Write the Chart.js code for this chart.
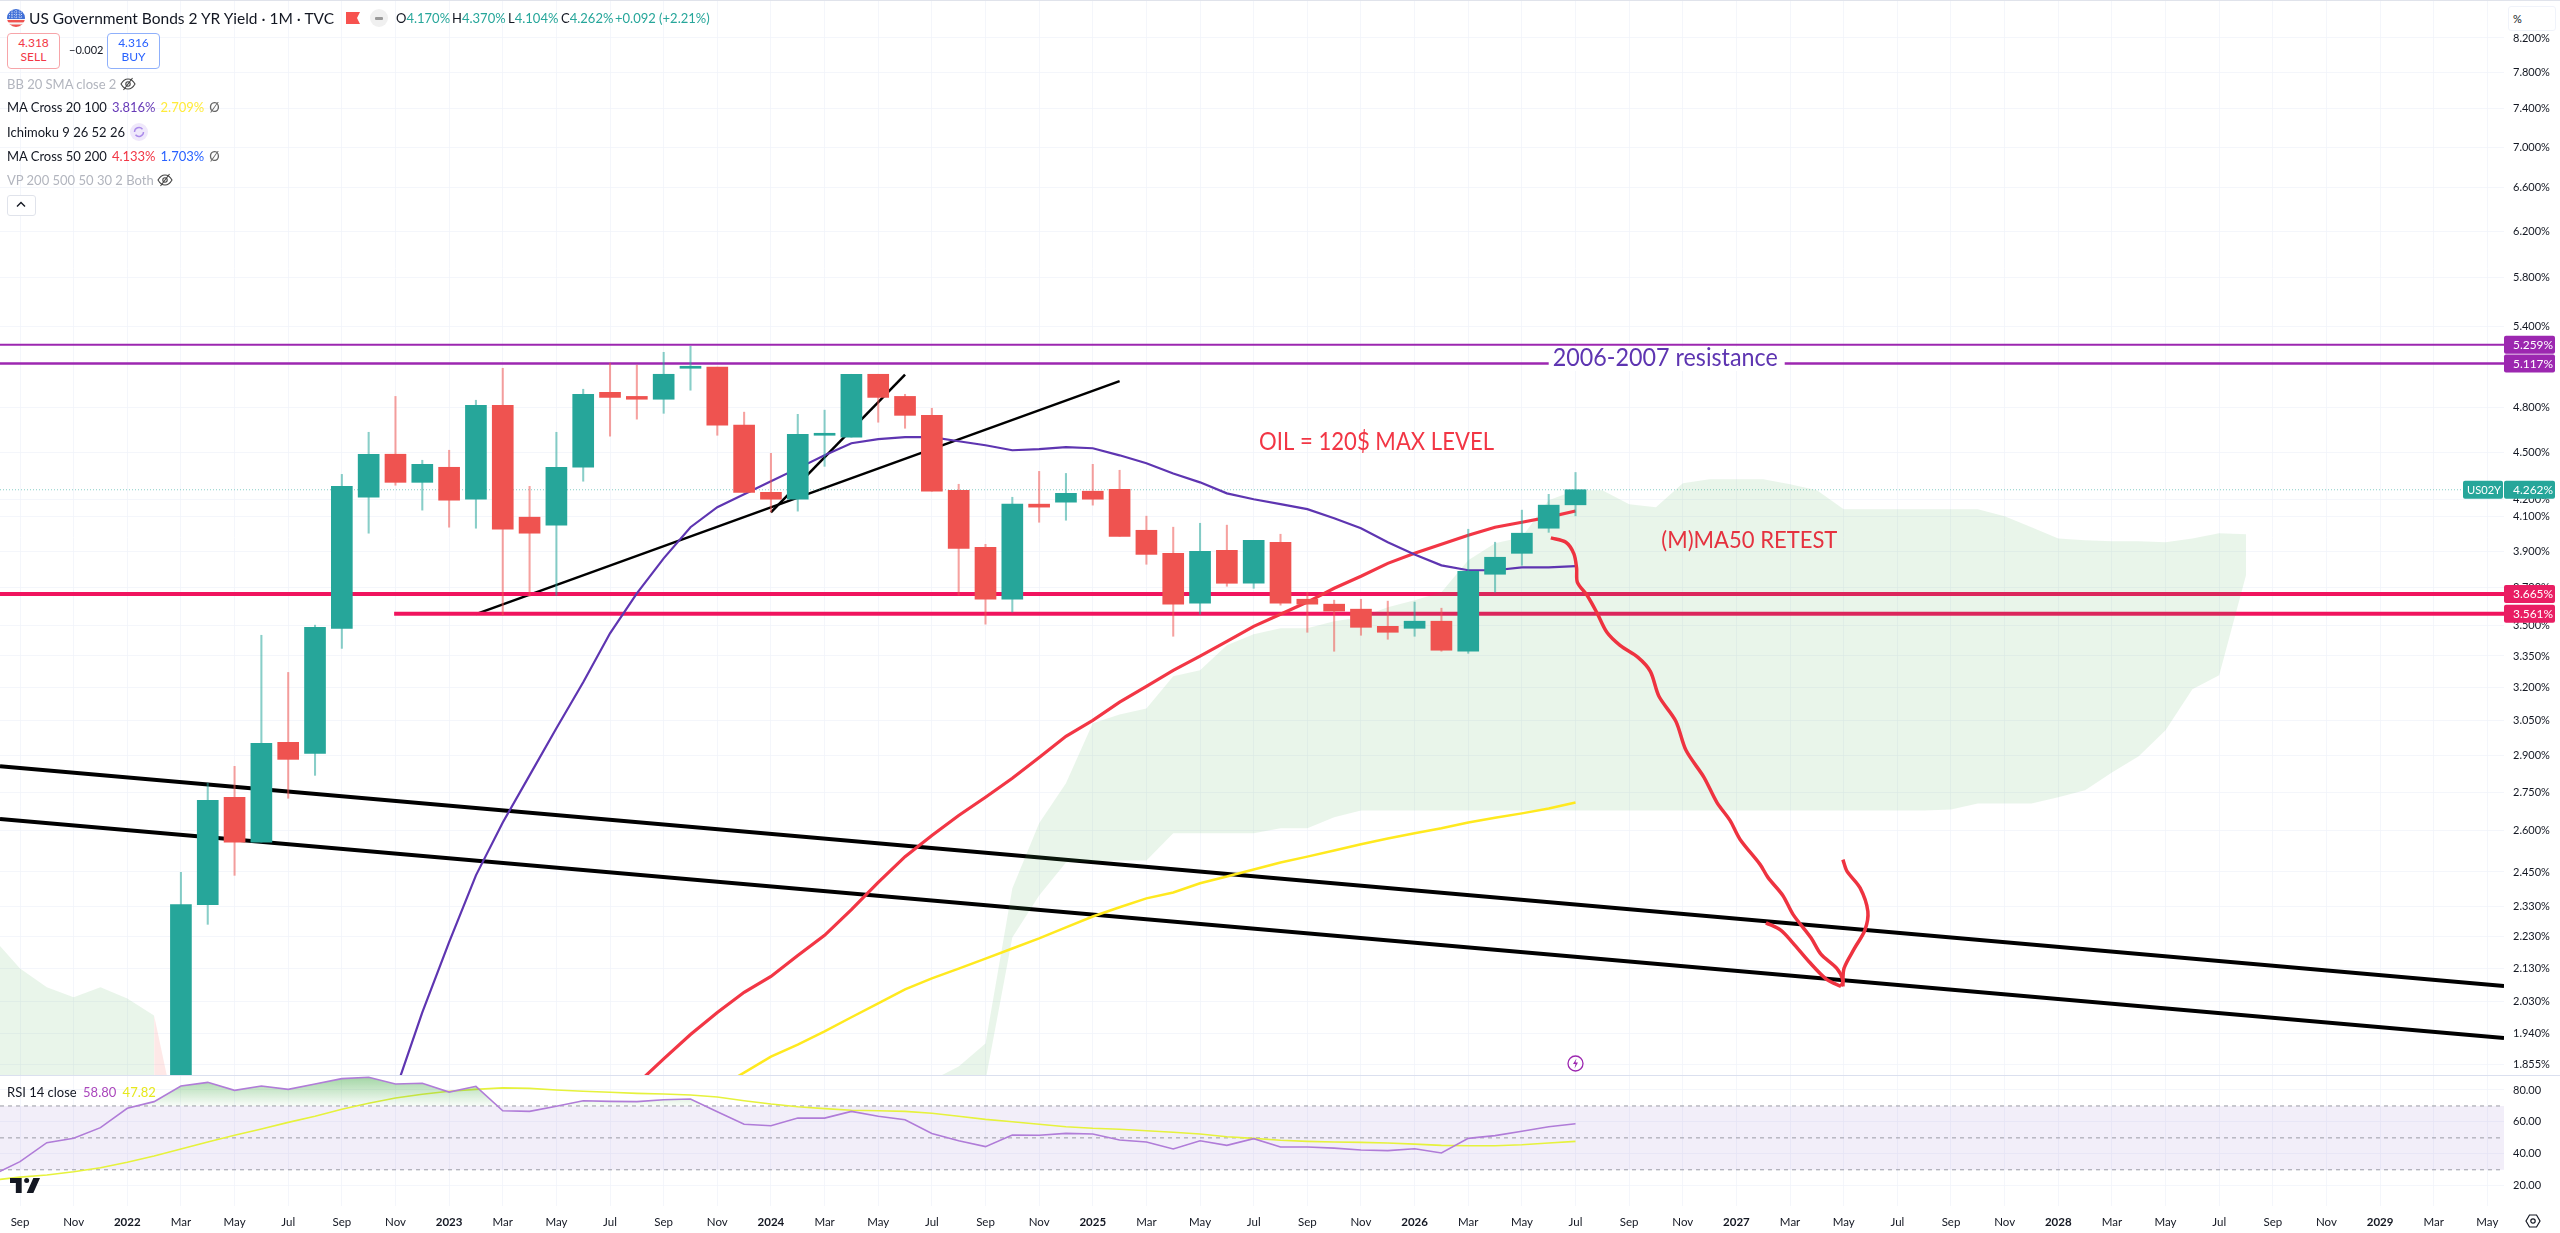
<!DOCTYPE html>
<html>
<head>
<meta charset="utf-8">
<title>US Government Bonds 2 YR Yield</title>
<script src="https://cdn.jsdelivr.net/npm/chart.js@4"></script>
<style>
  html, body { margin: 0; padding: 0; background: #fff; overflow: hidden; }
  body { width: 2560px; height: 1233px; position: relative; font-family: Lato, "Noto Sans", sans-serif; color: #131722; }
  canvas { position: absolute; left: 0; }
  #priceChart { top: 0; }
  #rsiChart { top: 1075px; }
  .abs { position: absolute; white-space: nowrap; }
  .row { position: absolute; left: 7px; font-size: 13px; line-height: 16px; white-space: nowrap; }
  .row span { margin-left: 5px; }
  .row span:first-child { margin-left: 0; }
  .off { color: #b2b5be; }
  .box { position: absolute; top: 33px; width: 51px; height: 32px; border-radius: 4px; background: #fff; text-align: center; font-size: 12px; line-height: 14px; padding-top: 2px; box-sizing: content-box; }
  .ohlc { position: absolute; top: 10px; font-size: 13px; line-height: 16px; color: #26a69a; white-space: nowrap; }
  .ohlc b { font-weight: normal; color: #131722; }
</style>
</head>
<body>
<canvas id="priceChart" width="2560" height="1075"></canvas>
<canvas id="rsiChart" width="2560" height="158"></canvas>

<div class="abs" style="left:0;top:0;width:2560px;height:1px;background:#e0e3eb"></div>
<div class="abs" style="left:0;top:1075px;width:2560px;height:1px;background:#dbe0ef"></div>

<svg class="abs" style="left:7px;top:9px" width="18" height="18" viewBox="0 0 18 18">
  <clipPath id="flagClip"><circle cx="9" cy="9" r="9"/></clipPath>
  <g clip-path="url(#flagClip)">
    <rect width="18" height="18" fill="#f5f5f5"/>
    <rect y="11" width="18" height="2.4" fill="#f0524f"/><rect y="15.5" width="18" height="2.5" fill="#f0524f"/>
    <rect width="18" height="10" fill="#3f6fd8"/>
    <path d="M2 3h14M2 5.5h14M2 8h14M5 1v9M9 1v9M13 1v9" stroke="#fff" stroke-width=".8" stroke-dasharray="1 1.4"/>
  </g>
</svg>
<div class="abs" style="left:29px;top:9px;font-size:15.5px;line-height:18px">US Government Bonds 2 YR Yield · 1M · TVC</div>
<svg class="abs" style="left:346px;top:12px" width="14" height="12" viewBox="0 0 14 12"><path d="M0 0h14l-3 6 3 6H0z" fill="#f7524f"/></svg>
<div class="abs" style="left:370px;top:9px;width:18px;height:18px;border-radius:9px;background:#f0f0f0"></div>
<div class="abs" style="left:375px;top:17px;width:8px;height:2.5px;border-radius:1px;background:#9a9a9a"></div>
<div class="ohlc" style="left:396px"><b>O</b>4.170%</div>
<div class="ohlc" style="left:452px"><b>H</b>4.370%</div>
<div class="ohlc" style="left:508px"><b>L</b>4.104%</div>
<div class="ohlc" style="left:561px"><b>C</b>4.262%</div>
<div class="ohlc" style="left:615px">+0.092 (+2.21%)</div>

<div class="box" style="left:7px;border:1px solid #f7a5a9;color:#f23645">4.318<br>SELL</div>
<div class="abs" style="left:69px;top:43px;font-size:11px;line-height:14px">−0.002</div>
<div class="box" style="left:107px;border:1px solid #8fb0fb;color:#2962ff">4.316<br>BUY</div>

<div class="row off" style="top:76px">BB 20 SMA close 2</div>
<svg class="abs" style="left:120px;top:77px" width="16" height="14" viewBox="0 0 16 14" fill="none" stroke="#444" stroke-width="1.1"><path d="M1 7c2-3.5 4.500-5 7-5s5 1.500 7 5c-2 3.500-4.500 5-7 5s-5-1.500-7-5z"/><circle cx="8" cy="7" r="2.2"/><path d="M12.500 1 3.500 13"/></svg>
<div class="row" style="top:99px"><span>MA Cross 20 100</span><span style="color:#673ab7">3.816%</span><span style="color:#ffeb3b">2.709%</span><span style="color:#666">Ø</span></div>
<div class="row" style="top:124px">Ichimoku 9 26 52 26</div>
<div class="abs" style="left:130px;top:123px;width:18px;height:18px;border-radius:9px;background:#efe8fb"></div>
<svg class="abs" style="left:133px;top:126px" width="12" height="12" viewBox="0 0 12 12" fill="none" stroke="#ab8bea" stroke-width="1.4"><path d="M1.500 6a4.500 4.500 0 0 1 8-2.800M10.500 6a4.500 4.500 0 0 1-8 2.800"/></svg>
<div class="row" style="top:148px"><span>MA Cross 50 200</span><span style="color:#f23645">4.133%</span><span style="color:#2962ff">1.703%</span><span style="color:#666">Ø</span></div>
<div class="row off" style="top:172px">VP 200 500 50 30 2 Both</div>
<svg class="abs" style="left:157px;top:173px" width="16" height="14" viewBox="0 0 16 14" fill="none" stroke="#444" stroke-width="1.1"><path d="M1 7c2-3.500 4.500-5 7-5s5 1.500 7 5c-2 3.500-4.500 5-7 5s-5-1.500-7-5z"/><circle cx="8" cy="7" r="2.200"/><path d="M12.500 1 3.500 13"/></svg>
<div class="abs" style="left:7px;top:195px;width:27px;height:19px;border:1px solid #e0e3eb;border-radius:3px;background:#fff"></div>
<svg class="abs" style="left:16px;top:201px" width="10" height="7" viewBox="0 0 10 7" fill="none" stroke="#131722" stroke-width="1.400"><path d="M1 5.500 5 1.500l4 4"/></svg>

<div class="abs" style="left:2508px;top:6px;width:46px;height:23px;border:1px solid #f0f3fa;border-radius:3px;background:#fff;font-size:11px;line-height:23px;text-indent:4px">%</div>

<svg class="abs" style="left:1567px;top:1055px" width="17" height="17" viewBox="0 0 17 17" fill="none"><circle cx="8.500" cy="8.500" r="7.500" stroke="#9c27b0" stroke-width="1.300"/><path d="M9.500 3.500 6 9h2.500L7.500 13.500 11 7.500H8.500z" fill="#9c27b0"/></svg>

<svg class="abs" style="left:10px;top:1178px" width="30" height="15" viewBox="0 0 36 18"><path d="M14 0H0v6h7v12h7zM28 0h8l-8 18h-8z" fill="#131722"/><circle cx="20" cy="3" r="3" fill="#131722"/></svg>
<div class="abs" style="left:7px;top:1084px;font-size:13px;line-height:16px"><span>RSI 14 close</span> <span style="color:#ab47bc;margin-left:3px">58.80</span> <span style="color:#e6e81e;margin-left:3px">47.82</span></div>
<svg class="abs" style="left:2525px;top:1214px" width="16" height="14" viewBox="0 0 16 14" fill="none" stroke="#131722" stroke-width="1.200"><path d="M1 7l3.500-6h7L15 7l-3.500 6h-7z"/><circle cx="8" cy="7" r="2.200"/></svg>

<script>
// month index: 0 = Sep 2021, one step per month
const xMin = -0.746;
const xMax = 92.62;

const xLabels = [
  'Sep','Nov',
  '2022','Mar','May','Jul','Sep','Nov',
  '2023','Mar','May','Jul','Sep','Nov',
  '2024','Mar','May','Jul','Sep','Nov',
  '2025','Mar','May','Jul','Sep','Nov',
  '2026','Mar','May','Jul','Sep','Nov',
  '2027','Mar','May','Jul','Sep','Nov',
  '2028','Mar','May','Jul','Sep','Nov',
  '2029','Mar','May'
];

const priceTicks = [8.2,7.8,7.4,7.0,6.6,6.2,5.8,5.4,4.8,4.5,4.2,4.1,3.9,3.7,3.5,3.35,3.2,3.05,2.9,2.75,2.6,2.45,2.33,2.23,2.13,2.03,1.94,1.855];
const rsiTicks = [80,60,40,20];

// candles start at Mar 2022 (month 6)
const candleStart = 6;
const opens = [1.43,2.337,2.730,2.558,2.956,2.909,3.487,4.216,4.487,4.308,4.403,4.204,4.817,4.096,4.049,4.403,4.908,4.879,4.859,5.082,5.090,4.680,4.246,4.204,4.612,4.599,5.038,4.879,4.747,4.259,3.921,3.637,4.174,4.186,4.253,4.265,4.019,3.887,3.616,3.904,3.722,3.950,3.637,3.611,3.585,3.497,3.487,3.523,3.373,3.771,3.887,4.031,4.170];
const highs = [2.449,2.786,2.855,3.452,3.271,3.503,4.358,4.632,4.879,4.448,4.513,4.852,5.082,4.283,4.632,4.930,5.120,5.105,5.201,5.247,5.090,4.769,4.493,4.754,4.783,5.038,5.038,4.894,4.796,4.296,3.938,4.216,4.377,4.364,4.422,4.384,4.102,4.037,4.060,4.049,3.961,3.996,3.674,3.632,3.637,3.627,3.622,3.590,4.025,3.950,4.138,4.234,4.370];
const lows = [1.43,2.271,2.438,2.558,2.726,2.818,3.387,4.002,4.290,4.138,4.037,4.031,3.554,3.653,3.658,4.315,4.606,4.721,4.761,4.923,4.612,4.246,4.126,4.132,4.409,4.599,4.700,4.659,4.253,3.658,3.508,3.570,4.066,4.078,4.168,3.984,3.826,3.447,3.559,3.706,3.695,3.606,3.467,3.373,3.452,3.432,3.447,3.373,3.363,3.674,3.820,4.007,4.104];
const closes = [2.337,2.718,2.558,2.952,2.884,3.492,4.283,4.487,4.308,4.422,4.198,4.817,4.025,4.002,4.403,4.894,4.872,4.859,5.038,5.090,4.680,4.246,4.204,4.619,4.619,5.038,4.872,4.747,4.253,3.915,3.637,4.174,4.156,4.240,4.204,3.984,3.881,3.611,3.898,3.722,3.961,3.616,3.611,3.575,3.492,3.467,3.523,3.378,3.787,3.865,4.002,4.168,4.262];

const ma20Start = 14;
const ma20Values = [1.785,1.999,2.213,2.438,2.632,2.818,3.017,3.225,3.462,3.668,3.859,4.037,4.156,4.234,4.315,4.396,4.480,4.559,4.586,4.599,4.599,4.572,4.546,4.513,4.520,4.533,4.526,4.480,4.429,4.364,4.308,4.240,4.204,4.174,4.144,4.090,4.031,3.950,3.881,3.820,3.793,3.793,3.809,3.809,3.816];
const ma50Start = 23;
const ma50Values = [1.802,1.869,1.936,1.999,2.058,2.106,2.171,2.235,2.320,2.413,2.505,2.583,2.659,2.730,2.806,2.892,2.982,3.052,3.133,3.206,3.281,3.349,3.422,3.497,3.559,3.622,3.695,3.760,3.831,3.887,3.938,3.990,4.037,4.066,4.096,4.133];
const ma100Start = 26;
const ma100Values = [1.791,1.832,1.875,1.908,1.945,1.985,2.025,2.067,2.100,2.130,2.161,2.193,2.225,2.261,2.297,2.328,2.358,2.378,2.410,2.434,2.459,2.484,2.505,2.527,2.550,2.572,2.591,2.610,2.632,2.650,2.667,2.686,2.709];

// Ichimoku cloud, month by month
const cloudOldStart = -1;
const cloudOldTop = [2.225,2.130,2.073,2.043,2.073,2.040,1.990];
const cloudOldBottom = [1.7,1.7,1.7,1.7,1.7,1.7,1.7];
const cloudPinkMonths = [5,5.68];
const cloudPinkTop = [1.990,1.757];
const cloudPinkBottom = [1.7,1.7];
const cloudStart = 34;
const cloudTop = [1.812,1.848,1.911,2.392,2.629,2.786,3.039,3.078,3.105,3.253,3.281,3.403,3.457,3.487,3.487,3.523,3.543,3.595,3.632,3.674,3.848,3.944,3.978,4.198,4.259,4.259,4.174,4.156,4.302,4.327,4.327,4.327,4.296,4.259,4.144,4.144,4.144,4.144,4.144,4.144,4.102,4.037,3.972,3.961,3.955,3.955,3.950,3.972,4.002,3.996];
const cloudBottom = [1.757,1.757,1.811,2.228,2.368,2.484,2.487,2.491,2.491,2.591,2.591,2.591,2.591,2.610,2.610,2.652,2.678,2.678,2.678,2.678,2.678,2.678,2.678,2.678,2.678,2.678,2.678,2.678,2.678,2.678,2.678,2.678,2.678,2.678,2.678,2.678,2.678,2.678,2.682,2.705,2.705,2.705,2.730,2.758,2.830,2.897,3.008,3.192,3.258,3.765];

const resistanceLevels = [5.259,5.117];
const supportLevel = 3.665;
const supportLevelLow = 3.561;
const supportLowStart = 13.95;
const lastClose = 4.262;

// drawn lines: [month, yield] pairs
const channelUpper = [[xMin,2.855],[xMax,2.077]];
const channelLower = [[xMin,2.645],[xMax,1.926]];
const trendLong = [[17,3.559],[41,4.988]];
const trendShort = [[28,4.124],[33,5.036]];

const arrowDown = [[57.08,3.975],[57.64,3.950],[57.94,3.884],[58.04,3.804],[58.07,3.727],[58.43,3.658],[58.80,3.566],[59.17,3.467],[59.66,3.402],[60.33,3.343],[60.79,3.276],[61.11,3.160],[61.74,3.048],[62.12,2.922],[62.79,2.810],[63.27,2.710],[63.76,2.640],[64.13,2.569],[64.88,2.477],[65.18,2.430],[65.73,2.368],[66.11,2.304],[66.78,2.227],[67.15,2.175],[67.75,2.130],[67.97,2.094],[67.90,2.076]];
const arrowLeft = [[67.90,2.076],[67.36,2.097],[66.70,2.152],[66.11,2.210],[65.65,2.252],[65.10,2.276]];
const arrowUp = [[67.97,2.076],[68.01,2.130],[68.40,2.193],[68.79,2.252],[68.90,2.314],[68.61,2.394],[68.12,2.453],[67.97,2.494]];

// RSI pane
const rsiStart = 0;
const rsiValues = [35.1,47,49.7,56.4,68.5,72.7,82.5,84.8,79.8,82.5,80.4,83.8,87.1,88,83.8,84.2,78.7,82.3,67,66.6,69.8,73.3,72.9,72.7,73.9,74.4,66.4,58.5,57.6,62.4,62.4,66.6,63.5,61.4,52.8,48.2,44.5,51.8,51.6,52.8,52.4,48.7,47.4,43,48.2,45.3,49.5,44.3,44.3,43.6,42.4,42,43.2,40.5,49.7,51.4,54.1,57,58.8];
const rsiMaValues = [25.4,26.7,28.8,31.3,34.7,38.6,43,47.4,51.6,55.5,59.7,63.5,67.9,71.7,75,77.3,79.2,80.4,81.3,81,80,79.2,78.6,77.9,77.5,76.9,75.6,73.3,71.2,69.5,68.3,67.3,67,66.6,65.4,63.5,61.6,60.1,58.5,57,56,55.4,54.5,53.5,52.4,50.7,49.7,48.5,47.8,47.4,47.2,46.8,46.1,45.3,45.1,45.1,45.7,46.8,47.8];
const rsiBefore = [-1,27];
const rsiMaBefore = [-1,23.5];

const COLOR_UP = '#26a69a';
const COLOR_DOWN = '#ef5350';
const GRID = 'rgba(240,243,250,0.75)';
const FONT = 'Lato, "Noto Sans", sans-serif';

Chart.defaults.font.family = FONT;
Chart.defaults.animation = false;

const fromSeries = (start, values) => values.map((v, i) => ({ x: start + i, y: v }));
const fromPairs = pairs => pairs.map(p => ({ x: p[0], y: p[1] }));
const months = opens.map((_, i) => candleStart + i);
const rising = i => closes[i] >= opens[i];
const candleColors = months.map((_, i) => rising(i) ? COLOR_UP : COLOR_DOWN);
const wickColors = months.map((_, i) => rising(i) ? 'rgba(38,166,154,0.55)' : 'rgba(239,83,80,0.55)');

function line(data, color, width, order, extra) {
  return Object.assign({
    type: 'line', data: data, borderColor: color, borderWidth: width,
    pointRadius: 0, tension: 0, fill: false, order: order
  }, extra || {});
}

function level(value, fromX, color, width, order, extra) {
  return line([{ x: fromX, y: value }, { x: xMax, y: value }], color, width, order, extra);
}

function noOverhang(s) {
  s.paddingTop = 0; s.paddingBottom = 0; s.paddingLeft = 0; s.paddingRight = 0;
}

function tag(ctx, x, y, w, textX, text, bg) {
  ctx.fillStyle = bg;
  ctx.beginPath();
  ctx.roundRect(x, y - 9, w, 18, 2);
  ctx.fill();
  ctx.fillStyle = '#fff';
  ctx.font = '12px ' + FONT;
  ctx.textAlign = 'left';
  ctx.textBaseline = 'middle';
  ctx.fillText(text, x + textX, y + 0.5, w - textX - 2);
}

const priceLabels = {
  id: 'priceLabels',
  afterDraw(chart) {
    const { ctx, scales: { x, y } } = chart;
    ctx.save();
    ctx.textBaseline = 'middle';
    ctx.textAlign = 'left';

    // the resistance caption sits on a white patch across the lower line
    ctx.font = '25px ' + FONT;
    ctx.fillStyle = '#fff';
    ctx.fillRect(x.getPixelForValue(57), 347, 236, 24);
    ctx.fillStyle = '#5e35b1';
    ctx.fillText('2006-2007 resistance', x.getPixelForValue(57.15), 358, 225);

    ctx.fillStyle = '#f23645';
    ctx.fillText('OIL = 120$ MAX LEVEL', x.getPixelForValue(46.2), y.getPixelForValue(4.57), 235);
    ctx.font = '24px ' + FONT;
    ctx.fillStyle = '#e5323f';
    ctx.fillText('(M)MA50 RETEST', x.getPixelForValue(61.2), y.getPixelForValue(3.96), 176);

    const left = x.right;
    tag(ctx, left, y.getPixelForValue(5.259), 51, 9, '5.259%', '#9c27b0');
    tag(ctx, left, y.getPixelForValue(5.117), 51, 9, '5.117%', '#9c27b0');
    tag(ctx, left - 41, y.getPixelForValue(lastClose), 40, 4, 'US02Y', COLOR_UP);
    tag(ctx, left, y.getPixelForValue(lastClose), 51, 9, '4.262%', COLOR_UP);
    tag(ctx, left, y.getPixelForValue(supportLevel), 51, 9, '3.665%', '#e91e63');
    tag(ctx, left, y.getPixelForValue(supportLevelLow), 51, 9, '3.561%', '#e91e63');
    ctx.restore();
  }
};

new Chart(document.getElementById('priceChart'), {
  type: 'bar',
  data: {
    datasets: [
      // higher order = further back
      line(fromPairs(channelUpper), '#000', 4, 40),
      line(fromPairs(channelLower), '#000', 4, 40),
      line(fromPairs(trendLong), '#000', 2.5, 39),
      line(fromPairs(trendShort), '#000', 2.5, 39),
      level(lastClose, xMin, 'rgba(38,166,154,0.55)', 1, 38, { borderDash: [1, 2] }),
      level(resistanceLevels[0], xMin, '#9c27b0', 2, 37),
      level(resistanceLevels[1], xMin, '#9c27b0', 2.5, 37),
      level(supportLevel, xMin, '#f0145e', 4, 36),
      level(supportLevelLow, supportLowStart, '#f0145e', 4, 36),
      line(fromSeries(cloudOldStart, cloudOldTop), 'transparent', 0, 30, { fill: '+1', backgroundColor: 'rgba(76,175,80,0.12)' }),
      line(fromSeries(cloudOldStart, cloudOldBottom), 'transparent', 0, 30),
      line(cloudPinkMonths.map((m, i) => ({ x: m, y: cloudPinkTop[i] })), 'transparent', 0, 30, { fill: '+1', backgroundColor: 'rgba(244,67,54,0.12)' }),
      line(cloudPinkMonths.map((m, i) => ({ x: m, y: cloudPinkBottom[i] })), 'transparent', 0, 30),
      line(fromSeries(cloudStart, cloudTop), 'transparent', 0, 30, { fill: '+1', backgroundColor: 'rgba(76,175,80,0.12)' }),
      line(fromSeries(cloudStart, cloudBottom), 'transparent', 0, 30),
      line(fromSeries(ma100Start, ma100Values), '#ffe91f', 2.5, 22),
      line(fromSeries(ma50Start, ma50Values), '#f23645', 3.2, 21),
      line(fromSeries(ma20Start, ma20Values), '#5e35b1', 2.2, 20),
      {
        data: months.map((m, i) => ({ x: m, y: [lows[i], highs[i]] })),
        backgroundColor: wickColors, barThickness: 1.4, grouped: false, order: 11
      },
      {
        data: months.map((m, i) => ({ x: m, y: [opens[i], closes[i]] })),
        backgroundColor: candleColors, barThickness: 21, minBarLength: 2, grouped: false, order: 10
      },
      line(fromPairs(arrowDown), '#ee3340', 3.5, 1, { tension: 0.3 }),
      line(fromPairs(arrowLeft), '#ee3340', 3.5, 1, { tension: 0.3 }),
      line(fromPairs(arrowUp), '#ee3340', 3.5, 1, { tension: 0.3 })
    ]
  },
  plugins: [priceLabels],
  options: {
    responsive: false,
    layout: { padding: 0 },
    plugins: { legend: { display: false }, tooltip: { enabled: false } },
    scales: {
      x: {
        type: 'linear', min: xMin, max: xMax, offset: false,
        grid: { color: GRID, offset: false, drawTicks: false },
        border: { display: false },
        ticks: { display: false },
        afterBuildTicks: s => { s.ticks = xLabels.map((_, i) => ({ value: i * 2 })); },
        afterFit: s => { s.height = 0; noOverhang(s); }
      },
      y: {
        type: 'logarithmic', position: 'right', min: 1.8257, max: 8.664,
        grid: { color: GRID, drawTicks: false },
        border: { display: false },
        ticks: {
          color: '#131722', font: { size: 11 }, padding: 9, autoSkip: false,
          callback: v => v.toFixed(3) + '%'
        },
        afterBuildTicks: s => { s.ticks = priceTicks.map(v => ({ value: v })); },
        afterFit: s => { s.width = 56; noOverhang(s); }
      }
    }
  }
});

const rsiCanvas = document.getElementById('rsiChart');
const overboughtFill = rsiCanvas.getContext('2d').createLinearGradient(0, 0, 0, 33);
overboughtFill.addColorStop(0, 'rgba(76,175,80,0.55)');
overboughtFill.addColorStop(1, 'rgba(76,175,80,0)');

const bandLine = v => ({
  type: 'line', data: [{ x: xMin, y: v }, { x: xMax, y: v }],
  borderColor: '#9a9ca5', borderWidth: 1, borderDash: [4, 4], pointRadius: 0, order: 5
});

new Chart(rsiCanvas, {
  type: 'line',
  data: {
    datasets: [
      {
        data: [{ x: xMin, y: 70 }, { x: xMax, y: 70 }], borderWidth: 0, pointRadius: 0,
        fill: { value: 30 }, backgroundColor: 'rgba(126,87,194,0.1)', order: 6
      },
      bandLine(70), bandLine(50), bandLine(30),
      {
        data: [{ x: rsiMaBefore[0], y: rsiMaBefore[1] }].concat(fromSeries(rsiStart, rsiMaValues)),
        borderColor: '#e6f23c', borderWidth: 1.6, pointRadius: 0, order: 3
      },
      {
        data: [{ x: rsiBefore[0], y: rsiBefore[1] }].concat(fromSeries(rsiStart, rsiValues)),
        borderColor: '#b07cd8', borderWidth: 1.6, pointRadius: 0, order: 2,
        fill: { target: { value: 70 }, above: overboughtFill, below: 'transparent' }
      }
    ]
  },
  options: {
    responsive: false,
    layout: { padding: 0 },
    plugins: { legend: { display: false }, tooltip: { enabled: false } },
    scales: {
      x: {
        type: 'linear', min: xMin, max: xMax,
        grid: { color: GRID, drawTicks: false },
        border: { display: false },
        ticks: {
          color: '#131722', padding: 9, autoSkip: false, maxRotation: 0,
          font: ctx => ({ size: 11.5, weight: ctx.tick && /^20/.test(ctx.tick.label) ? 'bold' : 'normal' }),
          callback: v => xLabels[v / 2]
        },
        afterBuildTicks: s => { s.ticks = xLabels.map((_, i) => ({ value: i * 2 })); },
        afterFit: s => { s.height = 27; noOverhang(s); }
      },
      y: {
        position: 'right', min: 7.3, max: 89.4,
        grid: { color: GRID, drawTicks: false },
        border: { display: false },
        ticks: { color: '#131722', font: { size: 11 }, padding: 9, callback: v => v.toFixed(2) },
        afterBuildTicks: s => { s.ticks = rsiTicks.map(v => ({ value: v })); },
        afterFit: s => { s.width = 56; noOverhang(s); }
      }
    }
  }
});
</script>
</body>
</html>
